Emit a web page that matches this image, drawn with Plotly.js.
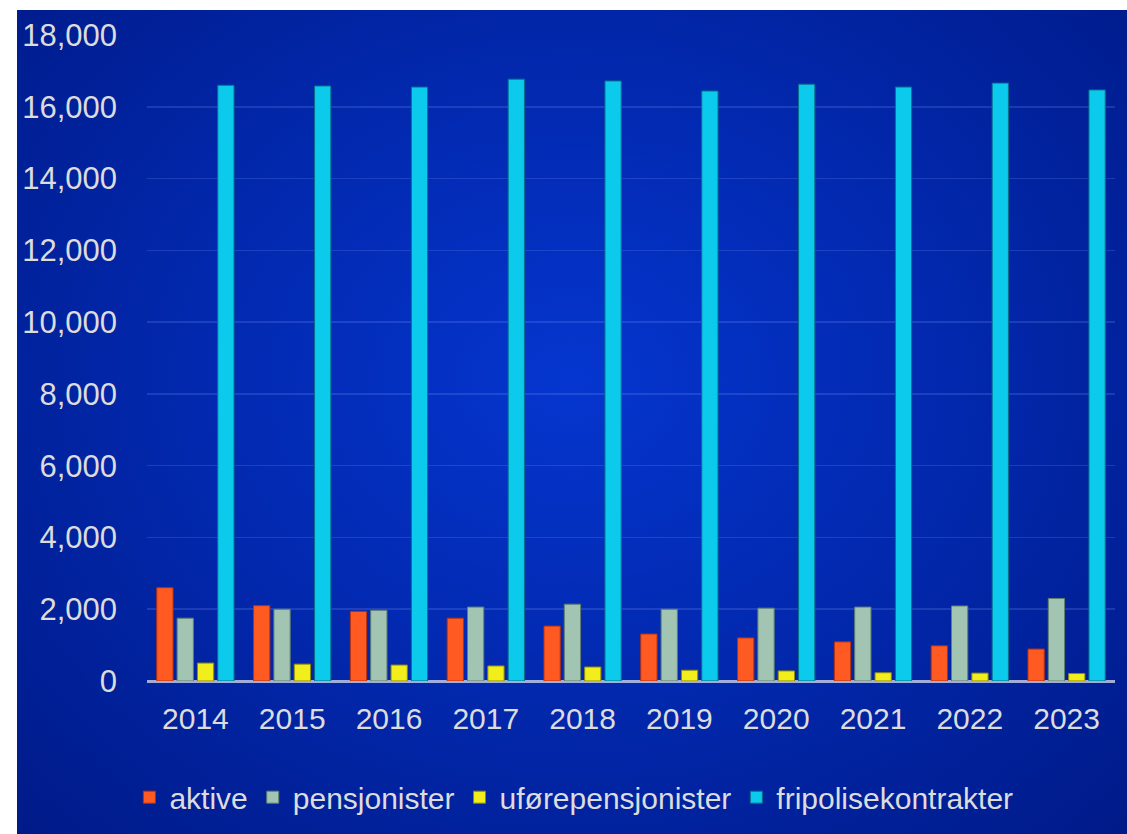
<!DOCTYPE html>
<html>
<head>
<meta charset="utf-8">
<script src="https://cdn.plot.ly/plotly-3.0.1.min.js"></script>
<style>
  html, body { margin: 0; padding: 0; background: #ffffff; width: 1127px; height: 834px; overflow: hidden; }
  #chart {
    position: absolute; left: 17px; top: 10px; width: 1110px; height: 824px;
    background: radial-gradient(ellipse at 50% 45%, #0536cf 0%, #0229b0 45%, #001a88 100%);
  }
</style>
</head>
<body>
<div id="chart"></div>
<script>
const years = ["2014","2015","2016","2017","2018","2019","2020","2021","2022","2023"];
const aktive = [2600, 2100, 1940, 1750, 1530, 1310, 1200, 1090, 980, 890];
const pensjonister = [1750, 2000, 1970, 2060, 2140, 2000, 2030, 2060, 2090, 2300];
const uforepensjonister = [500, 470, 445, 420, 390, 300, 280, 230, 220, 210];
const fripolisekontrakter = [16600, 16580, 16550, 16770, 16720, 16440, 16630, 16550, 16660, 16470];
const yTicks = [0, 2000, 4000, 6000, 8000, 10000, 12000, 14000, 16000, 18000];

const series = [
  {name: "aktive", y: aktive, color: "#ff5a22", line: "#b8320e"},
  {name: "pensjonister", y: pensjonister, color: "#a2c4b2", line: "#5f7f6e"},
  {name: "uførepensjonister", y: uforepensjonister, color: "#f2ee1c", line: "#8f8a08"},
  {name: "fripolisekontrakter", y: fripolisekontrakter, color: "#0ccaec", line: "#07708a"}
];

const data = series.map(s => ({
  type: "bar",
  name: s.name,
  x: years,
  y: s.y,
  marker: {color: s.color, line: {color: s.line, width: 1}},
  hoverinfo: "x+y+name"
}));

const font = {family: "Liberation Sans, Arial, sans-serif", color: "#dcdcdc"};

const layout = {
  width: 1110, height: 824,
  paper_bgcolor: "rgba(0,0,0,0)",
  plot_bgcolor: "rgba(0,0,0,0)",
  margin: {l: 130, r: 12, t: 25, b: 152},
  barmode: "group",
  bargap: 0.16,
  bargroupgap: 0.2,
  font: Object.assign({size: 30}, font),
  xaxis: {
    type: "category",
    tickfont: Object.assign({size: 30}, font),
    showgrid: false,
    showline: false,
    ticks: "",
    ticklabelstandoff: 17
  },
  yaxis: {
    range: [0, 18000],
    tickvals: yTicks,
    ticktext: yTicks.map(v => v.toLocaleString("en-US")),
    tickfont: Object.assign({size: 31}, font),
    showgrid: true,
    gridcolor: "rgba(140,160,255,0.2)",
    gridwidth: 1.5,
    zeroline: true,
    zerolinecolor: "rgba(215,220,235,0.75)",
    zerolinewidth: 3,
    showline: false,
    ticks: "",
    ticklabelstandoff: 29
  },
  showlegend: true,
  legend: {
    orientation: "h",
    x: 0.441, xanchor: "center",
    y: -0.178, yanchor: "middle",
    font: Object.assign({size: 30}, font),
    bgcolor: "rgba(0,0,0,0)",
    itemwidth: 30,
    traceorder: "normal"
  }
};

Plotly.newPlot("chart", data, layout, {displayModeBar: false, staticPlot: true});
</script>
</body>
</html>
